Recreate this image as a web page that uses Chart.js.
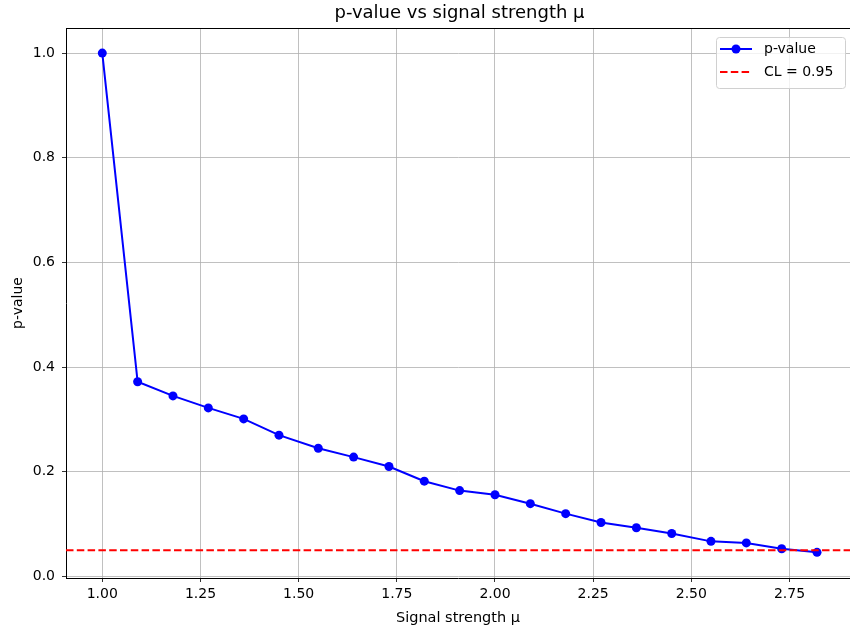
<!DOCTYPE html>
<html>
<head>
<meta charset="utf-8">
<script src="https://cdn.jsdelivr.net/npm/chart.js@4.4.1/dist/chart.umd.min.js"></script>
<style>
    html, body { margin: 0; padding: 0; background: #fff; overflow: hidden; }
    #wrap { width: 850px; height: 629px; position: relative; }
</style>
</head>
<body>
<div id="wrap"><canvas id="pvalChart"></canvas></div>
<script>
// Data
const muValues = [1.00, 1.09, 1.18, 1.27, 1.36, 1.45, 1.55, 1.64, 1.73, 1.82, 1.91,
                  2.00, 2.09, 2.18, 2.27, 2.36, 2.45, 2.55, 2.64, 2.73, 2.82];
const pValues = [1.000, 0.372, 0.345, 0.322, 0.301, 0.270, 0.245, 0.228, 0.210, 0.182, 0.164,
                 0.156, 0.139, 0.120, 0.103, 0.093, 0.082, 0.067, 0.064, 0.053, 0.046];
const clLevel = 0.95;
const xTicks = [1.00, 1.25, 1.50, 1.75, 2.00, 2.25, 2.50, 2.75];
const yTicks = [0.0, 0.2, 0.4, 0.6, 0.8, 1.0];

const FONT = "'DejaVu Sans', sans-serif";

// axhline at 1 - CL, top frame, title, legend
const extras = {
    id: 'extras',
    afterDatasetsDraw(chart) {
        const { ctx, chartArea: a, scales } = chart;
        const yLine = scales.y.getPixelForValue(1 - clLevel);
        ctx.save();
        ctx.strokeStyle = '#ff0000';
        ctx.lineWidth = 2;
        ctx.setLineDash([7.5, 3.3]);
        ctx.beginPath();
        ctx.moveTo(a.left, yLine);
        ctx.lineTo(a.right, yLine);
        ctx.stroke();
        ctx.restore();
    },
    afterDraw(chart) {
        const { ctx, chartArea: a } = chart;
        ctx.save();
        // top spine (right spine falls outside the picture)
        ctx.strokeStyle = '#000';
        ctx.lineWidth = 1;
        ctx.beginPath();
        ctx.moveTo(a.left, a.top + 0.5);
        ctx.lineTo(a.right, a.top + 0.5);
        ctx.stroke();

        // title
        ctx.fillStyle = '#000';
        ctx.font = '18px ' + FONT;
        ctx.textAlign = 'center';
        ctx.textBaseline = 'middle';
        ctx.fillText('p-value vs signal strength μ', 459.5, 13);

        // legend
        const bx = 716, by = 37, bw = 129, bh = 51;
        ctx.fillStyle = 'rgba(255,255,255,0.8)';
        ctx.strokeStyle = '#d0d0d0';
        ctx.lineWidth = 1;
        ctx.beginPath();
        ctx.roundRect(bx + 0.5, by + 0.5, bw, bh, 3);
        ctx.fill();
        ctx.stroke();

        ctx.strokeStyle = '#0000ff';
        ctx.lineWidth = 2;
        ctx.beginPath();
        ctx.moveTo(720, 49);
        ctx.lineTo(752, 49);
        ctx.stroke();
        ctx.fillStyle = '#0000ff';
        ctx.beginPath();
        ctx.arc(736, 49, 4.5, 0, Math.PI * 2);
        ctx.fill();

        ctx.strokeStyle = '#ff0000';
        ctx.setLineDash([7.5, 3.3]);
        ctx.beginPath();
        ctx.moveTo(720, 72);
        ctx.lineTo(752, 72);
        ctx.stroke();
        ctx.setLineDash([]);

        ctx.fillStyle = '#000';
        ctx.font = '14px ' + FONT;
        ctx.textAlign = 'left';
        ctx.fillText('p-value', 764, 49);
        ctx.fillText('CL = ' + clLevel.toFixed(2), 764, 72);
        ctx.restore();
    }
};

const gridStyle = {
    color: '#b0b0b0',
    lineWidth: 0.8,
    tickColor: '#000',
    tickLength: 4,
    drawTicks: true
};

new Chart(document.getElementById('pvalChart'), {
    type: 'line',
    data: {
        datasets: [{
            label: 'p-value',
            data: muValues.map((m, i) => ({ x: m, y: pValues[i] })),
            borderColor: '#0000ff',
            backgroundColor: '#0000ff',
            borderWidth: 2,
            pointRadius: 4.5,
            pointHoverRadius: 4.5,
            pointBorderWidth: 0,
            tension: 0
        }]
    },
    options: {
        responsive: true,
        maintainAspectRatio: false,
        animation: false,
        layout: {
            autoPadding: false,
            padding: { top: 28, right: 0, left: 0, bottom: 0 }
        },
        plugins: {
            legend: { display: false },
            tooltip: { enabled: false },
            title: { display: false }
        },
        scales: {
            x: {
                type: 'linear',
                min: 0.9076,
                max: 2.904,
                grid: gridStyle,
                border: { color: '#000', width: 1 },
                afterBuildTicks: (s) => { s.ticks = xTicks.map(v => ({ value: v })); },
                afterFit: (s) => {
                    s.height = 51;
                    s.paddingLeft = 0;
                    s.paddingRight = 0;
                },
                ticks: {
                    color: '#000',
                    padding: 4,
                    font: { family: FONT, size: 14 },
                    callback: (v) => Number(v).toFixed(2)
                },
                title: {
                    display: true,
                    text: 'Signal strength μ',
                    color: '#000',
                    font: { family: FONT, size: 14.5 },
                    padding: { top: 0, bottom: 2 }
                }
            },
            y: {
                min: -0.003,
                max: 1.048,
                grid: gridStyle,
                border: { color: '#000', width: 1 },
                afterBuildTicks: (s) => { s.ticks = yTicks.map(v => ({ value: v })); },
                afterFit: (s) => {
                    s.width = 66;
                    s.paddingTop = 0;
                    s.paddingBottom = 0;
                },
                ticks: {
                    color: '#000',
                    padding: 7,
                    font: { family: FONT, size: 14 },
                    callback: (v) => Number(v).toFixed(1)
                },
                title: {
                    display: true,
                    text: 'p-value',
                    color: '#000',
                    font: { family: FONT, size: 14 },
                    padding: { top: 10, bottom: 0 }
                }
            }
        }
    },
    plugins: [extras]
});
</script>
</body>
</html>
